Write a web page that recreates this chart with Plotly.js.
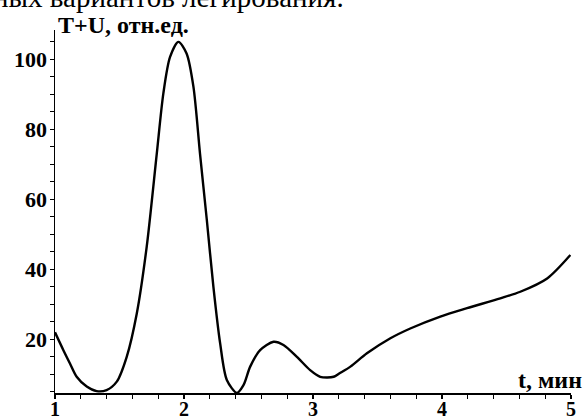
<!DOCTYPE html>
<html>
<head>
<meta charset="utf-8">
<script src="https://cdn.plot.ly/plotly-3.0.1.min.js"></script>
<style>html,body{margin:0;padding:0;background:#fff;}#chart{width:587px;height:419px;}</style>
</head>
<body>
<div id="chart"></div>
<script>
// t, min
const tValues = [1.0, 1.065, 1.116, 1.168, 1.246, 1.323, 1.40, 1.479, 1.556, 1.634, 1.711, 1.789, 1.84, 1.892, 1.957, 2.02, 2.073, 2.124, 2.177, 2.228, 2.28, 2.332, 2.41, 2.461, 2.513, 2.59, 2.694, 2.771, 2.875, 2.978, 3.056, 3.11, 3.16, 3.206, 3.29, 3.418, 3.60, 3.754, 3.987, 4.194, 4.452, 4.607, 4.815, 4.995];
// T+U, rel. units
const tuValues = [22.0, 16.9, 13.1, 9.3, 6.5, 5.2, 5.5, 7.9, 15.0, 27.4, 46.5, 73.1, 90.3, 100.7, 105.0, 101.7, 92.2, 73.1, 54.1, 35.0, 18.9, 8.4, 4.7, 6.9, 12.2, 16.9, 19.3, 18.4, 15.0, 11.2, 9.3, 9.1, 9.3, 10.3, 12.2, 16.0, 20.3, 23.1, 26.5, 28.9, 31.7, 33.6, 37.4, 44.1];
const xTickVals = [1, 2, 3, 4, 5];
const xTickText = ['1', '2', '3', '4', '5'];
const yTickVals = [20, 40, 60, 80, 100];
const yTickText = ['20', '40', '60', '80', '100'];
const yTitle = 'T+U, отн.ед.';
const xTitle = 't, мин';
const topText = 'ных вариантов легирования.';

const serif = 'Liberation Serif, Times New Roman, serif';

const trace = {
  x: tValues, y: tuValues, type: 'scatter', mode: 'lines',
  line: {color: '#000', width: 2.4, shape: 'spline', smoothing: 0.8},
  hoverinfo: 'skip'
};

const layout = {
  width: 587, height: 419,
  margin: {l: 55, r: 16, t: 30, b: 26},
  paper_bgcolor: '#fff', plot_bgcolor: '#fff',
  showlegend: false,
  xaxis: {
    range: [1, 5], showgrid: false, zeroline: false,
    showline: true, linecolor: '#000', linewidth: 1.5,
    ticks: 'outside', ticklen: 4, tickwidth: 1.2, tickcolor: '#000',
    tickvals: xTickVals, ticktext: xTickText,
    ticklabelstandoff: -7,
    tickfont: {family: serif, size: 20, color: '#000', weight: 'bold'},
    minor: {dtick: 0.2, ticks: 'outside', ticklen: 4, tickwidth: 1, tickcolor: '#000', showgrid: false},
    fixedrange: true
  },
  yaxis: {
    range: [4.66, 108.4], showgrid: false, zeroline: false,
    showline: true, linecolor: '#000', linewidth: 1.5,
    ticks: 'outside', ticklen: 4, tickwidth: 1.2, tickcolor: '#000',
    tickvals: yTickVals, ticktext: yTickText,
    ticklabelstandoff: -2,
    tickfont: {family: serif, size: 22, color: '#000', weight: 'bold'},
    minor: {dtick: 5, tick0: 0, ticks: 'outside', ticklen: 4, tickwidth: 1, tickcolor: '#000', showgrid: false},
    fixedrange: true
  },
  annotations: [
    {text: yTitle, xref: 'paper', yref: 'paper', x: 0, y: 1, xanchor: 'left', yanchor: 'bottom',
     xshift: 1, yshift: -10, showarrow: false,
     font: {family: serif, size: 24, color: '#000', weight: 'bold'}},
    {text: xTitle, xref: 'paper', yref: 'paper', x: 1, y: 0, xanchor: 'right', yanchor: 'bottom',
     xshift: 13, yshift: -2, showarrow: false,
     font: {family: serif, size: 24, color: '#000', weight: 'bold'}},
    {text: topText, xref: 'paper', yref: 'paper', x: 0, y: 1, xanchor: 'left', yanchor: 'bottom',
     xshift: -64, yshift: 15, showarrow: false,
     font: {family: serif, size: 29, color: '#000'}}
  ]
};

Plotly.newPlot('chart', [trace], layout, {staticPlot: true, displayModeBar: false});
</script>
</body>
</html>
